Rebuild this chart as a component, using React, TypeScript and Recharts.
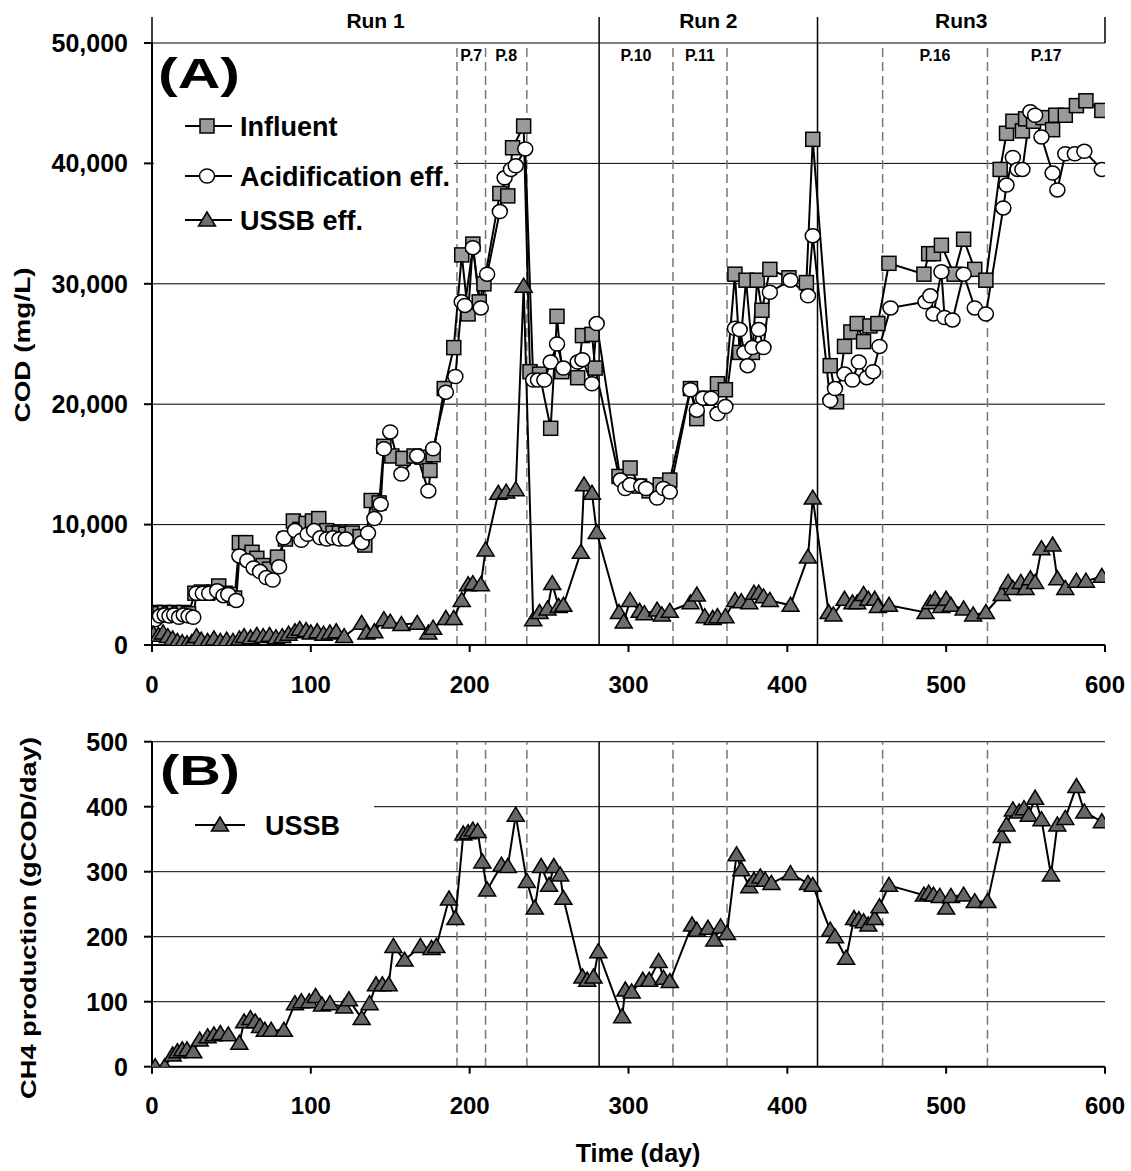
import React from 'react';
import { LineChart, Line, XAxis, YAxis, CartesianGrid, ReferenceLine, ReferenceArea } from 'recharts';

// Panel A: COD (mg/L)
const influentDay = [2, 5, 8, 11, 14, 17, 20, 23, 27, 31, 35, 39, 42, 46, 49, 52, 55, 59, 63, 66, 70, 74, 79, 84, 89, 93, 97, 101, 105, 110, 114, 118, 122, 126, 131, 134, 138, 143, 146, 151, 158, 165, 170, 175, 177, 184, 190, 195, 199, 202, 206, 209, 219, 224, 227, 234, 238, 244, 251, 255, 258, 268, 271, 277, 279, 294, 301, 307, 313, 320, 326, 339, 343, 349, 356, 361, 367, 370, 374, 378, 381, 384, 389, 401, 412, 416, 427, 431, 436, 440, 444, 448, 452, 457, 464, 486, 489, 492, 497, 505, 511, 518, 525, 534, 538, 542, 548, 550, 555, 561, 567, 569, 575, 582, 588, 598];
const influentCod = [2700, 2600, 2700, 2600, 2700, 2600, 2700, 2600, 4300, 4400, 4300, 4400, 4900, 4300, 4200, 3900, 8500, 8500, 7700, 7200, 6600, 6300, 7300, 8800, 10300, 9600, 10100, 10300, 10500, 9500, 9300, 9300, 9200, 9300, 9000, 8300, 12000, 11800, 16500, 15700, 15500, 15700, 15600, 14500, 15800, 21300, 24700, 32400, 27500, 33300, 28500, 30000, 37500, 37300, 41300, 43100, 22700, 22500, 18000, 27300, 22700, 22200, 25700, 25800, 23000, 14000, 14700, 13200, 12800, 13300, 13700, 21300, 18800, 20500, 21700, 21200, 30800, 24300, 30300, 24300, 30300, 27800, 31200, 30500, 30100, 42000, 23200, 20200, 24800, 26000, 26700, 25200, 26500, 26700, 31700, 30800, 32500, 32500, 33200, 30800, 33700, 31200, 30300, 39500, 42500, 43500, 42700, 43700, 43500, 43800, 42800, 44000, 44000, 44800, 45200, 44400];

const acidDay = [2, 5, 8, 11, 14, 17, 20, 23, 26, 28, 32, 36, 41, 45, 48, 53, 55, 60, 64, 68, 72, 76, 80, 83, 90, 94, 98, 102, 106, 110, 114, 118, 122, 132, 136, 140, 144, 146, 150, 157, 167, 174, 177, 185, 191, 195, 197, 202, 207, 211, 219, 222, 226, 229, 235, 240, 243, 247, 251, 255, 259, 268, 271, 277, 280, 295, 298, 301, 308, 311, 318, 322, 326, 339, 343, 347, 352, 356, 361, 367, 370, 373, 375, 378, 382, 385, 389, 402, 413, 416, 427, 430, 436, 441, 445, 450, 454, 458, 465, 487, 490, 492, 497, 499, 504, 511, 518, 525, 536, 538, 542, 545, 548, 553, 556, 560, 567, 570, 575, 581, 587, 598];
const acidCod = [2100, 2400, 2500, 2400, 2500, 2300, 2500, 2400, 2300, 4300, 4300, 4300, 4500, 4100, 4200, 3700, 7400, 7000, 6400, 6100, 5600, 5400, 6500, 8900, 9500, 8700, 9200, 9500, 8900, 8800, 8900, 8800, 8800, 8500, 9300, 10500, 11700, 16300, 17700, 14200, 15700, 12800, 16300, 21000, 22300, 28500, 28200, 33000, 28000, 30800, 36000, 38800, 39500, 39800, 41200, 22000, 22000, 22000, 23500, 25000, 23000, 23500, 23700, 21700, 26700, 13700, 13000, 13300, 13200, 13000, 12200, 13000, 12700, 21200, 19500, 20500, 20500, 19200, 19800, 26300, 26200, 24300, 23200, 24700, 26200, 24700, 29300, 30300, 29000, 34000, 20300, 21300, 22500, 22000, 23500, 22200, 22700, 24800, 28000, 28500, 29000, 27500, 31000, 27200, 27000, 30800, 28000, 27500, 36300, 38200, 40500, 39500, 39500, 44300, 44000, 42200, 39200, 37800, 40800, 40800, 41000, 39500];

const ussbEffDay = [1, 4, 7, 10, 13, 16, 19, 22, 25, 28, 31, 35, 39, 43, 47, 51, 55, 58, 62, 66, 70, 74, 78, 82, 86, 90, 93, 97, 100, 104, 108, 112, 116, 121, 132, 135, 140, 146, 150, 157, 167, 174, 177, 185, 190, 195, 199, 202, 207, 210, 218, 223, 229, 234, 240, 244, 249, 252, 256, 259, 270, 272, 277, 280, 294, 297, 301, 307, 310, 318, 321, 326, 339, 343, 348, 353, 356, 361, 367, 371, 376, 379, 382, 385, 389, 402, 413, 416, 426, 429, 436, 441, 444, 448, 451, 455, 457, 464, 487, 490, 493, 497, 500, 503, 511, 517, 525, 535, 539, 542, 547, 550, 553, 556, 560, 567, 570, 575, 582, 588, 598];
const ussbEffCod = [900, 800, 1000, 700, 500, 300, 200, 100, 200, 700, 400, 300, 500, 300, 400, 300, 500, 700, 600, 800, 700, 800, 600, 700, 900, 1100, 1300, 1200, 1000, 1100, 900, 1000, 1100, 700, 1800, 1000, 1100, 2100, 1900, 1700, 1800, 1000, 1400, 2200, 2200, 3700, 5000, 5100, 5000, 7900, 12600, 12700, 12900, 29800, 2100, 2700, 3000, 5100, 3200, 3300, 7700, 13300, 12600, 9350, 2700, 1900, 3700, 2800, 2600, 2900, 2500, 2800, 3500, 4150, 2350, 2200, 2350, 2350, 3700, 3600, 3500, 4300, 4300, 4000, 3700, 3300, 7300, 12200, 2700, 2500, 3800, 3500, 3500, 4200, 3800, 3800, 3200, 3300, 2700, 3500, 3800, 3200, 3800, 3300, 3000, 2500, 2700, 4200, 5200, 4700, 5200, 4700, 5500, 5200, 8000, 8300, 5500, 4700, 5300, 5300, 5700];

// Panel B: CH4 production (gCOD/day)
const ch4Day = [2, 8, 13, 16, 19, 22, 26, 30, 35, 39, 43, 48, 55, 58, 62, 65, 68, 71, 75, 83, 90, 94, 99, 103, 107, 112, 121, 124, 132, 137, 141, 145, 149, 152, 159, 169, 176, 179, 187, 191, 196, 199, 202, 205, 208, 211, 220, 224, 229, 236, 241, 245, 250, 253, 257, 259, 271, 274, 278, 281, 296, 298, 302, 309, 313, 319, 322, 326, 340, 343, 350, 354, 358, 362, 368, 371, 376, 379, 383, 386, 390, 402, 413, 416, 427, 430, 437, 442, 445, 448, 451, 455, 458, 464, 486, 489, 492, 496, 500, 503, 511, 518, 526, 535, 538, 542, 546, 549, 552, 556, 560, 566, 570, 575, 582, 587, 598];
const ch4Prod = [0, 0, 18, 23, 26, 26, 23, 41, 46, 49, 51, 49, 36, 69, 74, 69, 62, 56, 56, 56, 97, 100, 100, 108, 95, 97, 92, 103, 74, 97, 126, 126, 126, 185, 164, 185, 182, 185, 258, 228, 358, 360, 364, 362, 315, 272, 310, 308, 387, 285, 244, 308, 279, 308, 295, 259, 138, 133, 138, 177, 77, 118, 115, 133, 133, 162, 136, 131, 218, 210, 213, 195, 215, 205, 326, 303, 277, 287, 292, 287, 282, 297, 282, 279, 210, 200, 167, 228, 226, 223, 218, 228, 246, 279, 264, 267, 264, 262, 244, 262, 264, 254, 254, 354, 372, 395, 392, 397, 387, 413, 380, 295, 372, 382, 431, 392, 377];

const xTicks = [0, 100, 200, 300, 400, 500, 600];
const codTicks = [0, 10000, 20000, 30000, 40000, 50000];
const ch4Ticks = [0, 100, 200, 300, 400, 500];
const runBounds = [281.5, 419];
const phaseBounds = [192, 210, 236, 328, 362, 460, 526];
const phaseNames = ['P.7', 'P.8', 'P.10', 'P.11', 'P.16', 'P.17'];
const phaseFrom = [192, 210, 281.5, 328, 460, 526];
const phaseTo = [210, 236, 328, 362, 526, 600];
const runNames = ['Run 1', 'Run 2', 'Run3'];
const runFrom = [0, 281.5, 419];
const runTo = [281.5, 419, 600];

const FONT = 'Liberation Sans, Arial, sans-serif';
const PLOT_L = 152;
const PLOT_R = 1105;
const px = (d: number) => PLOT_L + (d / 600) * (PLOT_R - PLOT_L);

const pts = (days: number[], vals: number[]) => days.map((d, i) => ({ day: d, v: vals[i] }));

const SquareDot = (p: any) => {
  if (p.cx == null || p.cy == null) return <g key={p.key} />;
  return <rect key={p.key} x={p.cx - 7} y={p.cy - 7} width={14} height={14} fill="#9a9a9a" stroke="#000" strokeWidth={1.5} />;
};
const CircleDot = (p: any) => {
  if (p.cx == null || p.cy == null) return <g key={p.key} />;
  return <ellipse key={p.key} cx={p.cx} cy={p.cy} rx={7.5} ry={7} fill="#fff" stroke="#000" strokeWidth={1.5} />;
};
const triPath = (cx: number, cy: number) => `M${cx},${cy - 8} L${cx - 8.5},${cy + 6} L${cx + 8.5},${cy + 6} Z`;
const TriDot = (fill: string) => (p: any) => {
  if (p.cx == null || p.cy == null) return <g key={p.key} />;
  return <path key={p.key} d={triPath(p.cx, p.cy)} fill={fill} stroke="#000" strokeWidth={1.5} />;
};

const tickStyle = { fontSize: 24, fontWeight: 700, fill: '#000', fontFamily: FONT };

const VLines = () => (
  <>
    {runBounds.map((d) => (
      <ReferenceLine key={'r' + d} x={d} stroke="#000" strokeWidth={1.5} />
    ))}
    {phaseBounds.map((d) => (
      <ReferenceLine key={'p' + d} x={d} stroke="#777" strokeWidth={1.5} strokeDasharray="9 5" />
    ))}
  </>
);

export default function App() {
  return (
    <div style={{ position: 'absolute', left: 0, top: 0, width: 1131, height: 1171, background: '#fff', fontFamily: FONT }}>
      {/* Panel A */}
      <div style={{ position: 'absolute', left: 0, top: 0 }}>
        <LineChart width={1131} height={700} margin={{ top: 43, right: 26, left: 0, bottom: 0 }}>
          <CartesianGrid vertical={false} stroke="#000" strokeWidth={1} />
          <XAxis type="number" dataKey="day" domain={[0, 600]} ticks={xTicks} allowDataOverflow height={55}
            tick={tickStyle} tickSize={7} tickMargin={24} axisLine={{ stroke: '#000', strokeWidth: 2 }} tickLine={{ stroke: '#000', strokeWidth: 2 }} />
          <XAxis xAxisId="top" orientation="top" type="number" domain={[0, 600]} height={0} tick={false} tickLine={false} axisLine={{ stroke: '#000', strokeWidth: 3 }} />
          <YAxis type="number" domain={[0, 50000]} ticks={codTicks} width={PLOT_L} allowDataOverflow
            tickFormatter={(v: number) => v.toLocaleString('en-US')}
            tick={{ ...tickStyle, fontSize: 25 }} tickSize={8} tickMargin={16} axisLine={{ stroke: '#000', strokeWidth: 2 }} tickLine={{ stroke: '#000', strokeWidth: 2 }} />
          <YAxis yAxisId="right" orientation="right" width={0} tick={false} tickLine={false} axisLine={{ stroke: '#000', strokeWidth: 2 }} />
          {VLines()}
          {phaseNames.map((n, i) => (
            <ReferenceArea key={n} x1={phaseFrom[i]} x2={phaseTo[i]} fillOpacity={0} strokeOpacity={0}
              label={{ value: n, position: 'insideTop', offset: 7, fontSize: 16, fontWeight: 700, fill: '#000', fontFamily: FONT }} />
          ))}
          <Line data={pts(influentDay, influentCod)} dataKey="v" stroke="#000" strokeWidth={2} dot={SquareDot} isAnimationActive={false} />
          <Line data={pts(acidDay, acidCod)} dataKey="v" stroke="#000" strokeWidth={2} dot={CircleDot} isAnimationActive={false} />
          <Line data={pts(ussbEffDay, ussbEffCod)} dataKey="v" stroke="#000" strokeWidth={2} dot={TriDot('#6e6e6e')} isAnimationActive={false} />
        </LineChart>
      </div>

      {/* Panel B */}
      <div style={{ position: 'absolute', left: 0, top: 700 }}>
        <LineChart width={1131} height={480} margin={{ top: 41.7, right: 26, left: 0, bottom: 0 }}>
          <CartesianGrid vertical={false} stroke="#000" strokeWidth={1} />
          <XAxis type="number" dataKey="day" domain={[0, 600]} ticks={xTicks} allowDataOverflow height={113.3}
            tick={tickStyle} tickSize={7} tickMargin={23} axisLine={{ stroke: '#000', strokeWidth: 2 }} tickLine={{ stroke: '#000', strokeWidth: 2 }} />
          <XAxis xAxisId="top" orientation="top" type="number" domain={[0, 600]} height={0} tick={false} tickLine={false} axisLine={{ stroke: '#000', strokeWidth: 3 }} />
          <YAxis type="number" domain={[0, 500]} ticks={ch4Ticks} width={PLOT_L} allowDataOverflow
            tick={{ ...tickStyle, fontSize: 25 }} tickSize={8} tickMargin={16} axisLine={{ stroke: '#000', strokeWidth: 2 }} tickLine={{ stroke: '#000', strokeWidth: 2 }} />
          <YAxis yAxisId="right" orientation="right" width={0} tick={false} tickLine={false} axisLine={{ stroke: '#000', strokeWidth: 2 }} />
          {VLines()}
          <Line data={pts(ch4Day, ch4Prod)} dataKey="v" stroke="#000" strokeWidth={2} dot={TriDot('#666')} isAnimationActive={false} />
        </LineChart>
      </div>

      {/* annotations */}
      <svg width={1131} height={1171} style={{ position: 'absolute', left: 0, top: 0, pointerEvents: 'none' }} fontFamily={FONT}>
        {[0, ...runBounds, 600].map((d) => (
          <line key={'s' + d} x1={px(d)} x2={px(d)} y1={17} y2={43} stroke="#000" strokeWidth={1.5} />
        ))}
        {runNames.map((n, i) => (
          <text key={n} x={px((runFrom[i] + runTo[i]) / 2)} y={28} textAnchor="middle" fontSize={21} fontWeight={700}>{n}</text>
        ))}

        {/* legend A */}
        <rect x={154} y={92} width={300} height={150} fill="#fff" />
        <text x={158} y={88} fontSize={42} fontWeight={700} textLength={82} lengthAdjust="spacingAndGlyphs">(A)</text>
        <line x1={185} x2={232} y1={126} y2={126} stroke="#000" strokeWidth={2} />
        <rect x={200} y={119} width={14} height={14} fill="#9a9a9a" stroke="#000" strokeWidth={1.5} />
        <text x={240} y={136} fontSize={27} fontWeight={700}>Influent</text>
        <line x1={185} x2={232} y1={176} y2={176} stroke="#000" strokeWidth={2} />
        <ellipse cx={207} cy={176} rx={7.5} ry={7} fill="#fff" stroke="#000" strokeWidth={1.5} />
        <text x={240} y={186} fontSize={27} fontWeight={700}>Acidification eff.</text>
        <line x1={185} x2={232} y1={220} y2={220} stroke="#000" strokeWidth={2} />
        <path d={triPath(207, 220)} fill="#6e6e6e" stroke="#000" strokeWidth={1.5} />
        <text x={240} y={230} fontSize={27} fontWeight={700}>USSB eff.</text>

        {/* legend B */}
        <rect x={154} y={790} width={220} height={50} fill="#fff" />
        <text x={160} y={785} fontSize={42} fontWeight={700} textLength={80} lengthAdjust="spacingAndGlyphs">(B)</text>
        <line x1={195} x2={245} y1={825} y2={825} stroke="#000" strokeWidth={2} />
        <path d={triPath(220, 825)} fill="#666" stroke="#000" strokeWidth={1.5} />
        <text x={265} y={835} fontSize={27} fontWeight={700}>USSB</text>

        {/* axis titles */}
        <text transform="translate(30,345) rotate(-90)" textAnchor="middle" fontSize={22} fontWeight={700} textLength={155} lengthAdjust="spacingAndGlyphs">COD (mg/L)</text>
        <text transform="translate(36,918) rotate(-90)" textAnchor="middle" fontSize={22} fontWeight={700} textLength={362} lengthAdjust="spacingAndGlyphs">CH4 production (gCOD/day)</text>
        <text x={638} y={1162} textAnchor="middle" fontSize={25} fontWeight={700}>Time (day)</text>
      </svg>
    </div>
  );
}
